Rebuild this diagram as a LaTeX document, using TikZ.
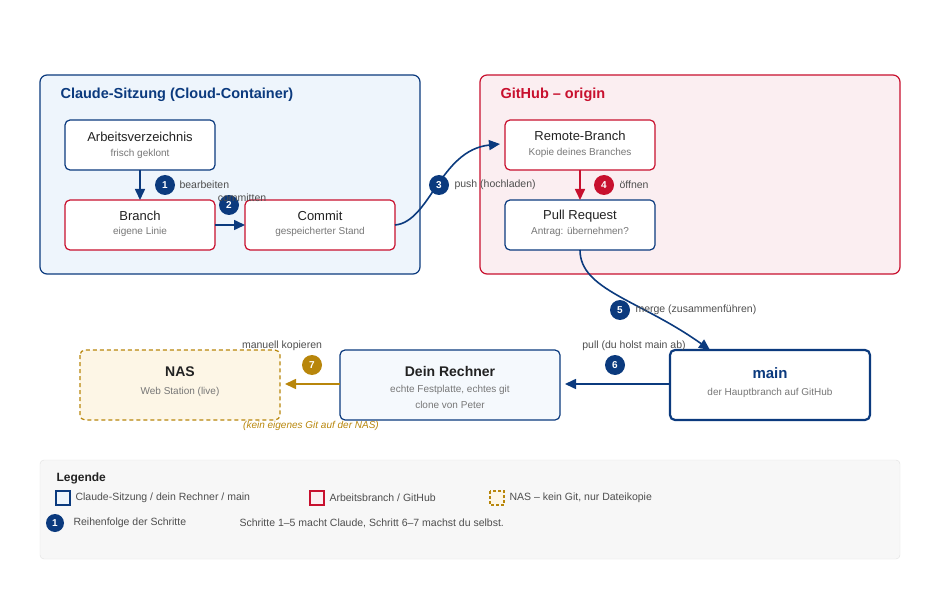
\documentclass[tikz,border=0pt]{standalone}
\usepackage{fontspec}
\setmainfont{Liberation Sans}
\usetikzlibrary{arrows.meta}
\definecolor{cblue}{HTML}{0B3A7E}
\definecolor{cred}{HTML}{C8102E}
\definecolor{cgold}{HTML}{B8860B}
\definecolor{bluefill}{HTML}{EEF5FC}
\definecolor{redfill}{HTML}{FBEEF1}
\definecolor{nasfill}{HTML}{FDF6E6}
\definecolor{txt}{HTML}{222222}
\definecolor{sub}{HTML}{777777}
\begin{document}
\begin{tikzpicture}[x=1pt,y=-1pt,
 box/.style={rounded corners=5pt,line width=1.2pt,fill=white},
 grp/.style={rounded corners=7pt,line width=1.2pt},
 ttl/.style={font=\fontsize{13}{15}\selectfont,text=txt},
 st/.style={font=\fontsize{10}{12}\selectfont,text=sub},
 lab/.style={font=\fontsize{10.5}{12}\selectfont,text=txt!80,anchor=west},
 clab/.style={font=\fontsize{10.5}{12}\selectfont,text=txt!80},
 badge/.style={circle,fill=cblue,text=white,inner sep=0pt,minimum size=20pt,font=\fontsize{10}{12}\selectfont\bfseries},
 arr/.style={line width=1.6pt,-{Triangle[length=11pt,width=10pt]}}]
\useasboundingbox (0,0) rectangle (940,604);
% groups
\draw[grp,draw=cblue,fill=bluefill] (40,75) rectangle (420,274);
\node[anchor=west,text=cblue,font=\fontsize{14.5}{17}\selectfont\bfseries] (tc) at (57,95) {Claude-Sitzung (Cloud-Container)};
\draw[grp,draw=cred,fill=redfill] (480,75) rectangle (900,274);
\node[anchor=west,text=cred,font=\fontsize{14.5}{17}\selectfont\bfseries] (tg) at (497,95) {GitHub – origin};
% nodes
\draw[box,draw=cblue] (65,120) rectangle (215,170);
\node[ttl] (a) at (140,137) {Arbeitsverzeichnis};
\node[st] at (140,154) {frisch geklont};
\coordinate (aB) at (140,170);
\draw[box,draw=cred] (65,200) rectangle (215,250);
\node[ttl] at (140,216) {Branch};
\node[st] at (140,232) {eigene Linie};
\coordinate (bT) at (140,200); \coordinate (bR) at (215,225);
\draw[box,draw=cred] (245,200) rectangle (395,250);
\node[ttl] at (320,216) {Commit};
\node[st] at (320,232) {gespeicherter Stand};
\coordinate (cL) at (245,225); \coordinate (cR) at (395,225);
\draw[box,draw=cred] (505,120) rectangle (655,170);
\node[ttl] at (580,136) {Remote-Branch};
\node[st] at (580,153) {Kopie deines Branches};
\coordinate (rL) at (500,144); \coordinate (rB) at (580,170);
\draw[box,draw=cblue] (505,200) rectangle (655,250);
\node[ttl] at (580,216) {Pull Request};
\node[st] at (580,232) {Antrag: übernehmen?};
\coordinate (pT) at (580,200); \coordinate (pB) at (580,250);
\draw[box,draw=cblue,line width=2.2pt] (670,350) rectangle (870,420);
\node[text=cblue,font=\fontsize{15}{17}\selectfont\bfseries] at (770,373) {main};
\node[st] at (770,393) {der Hauptbranch auf GitHub};
\coordinate (mT) at (710,350); \coordinate (mL) at (670,384);
\draw[box,draw=cblue,fill=bluefill!60] (340,350) rectangle (560,420);
\node[text=txt,font=\fontsize{14}{16}\selectfont\bfseries] at (450,371) {Dein Rechner};
\node[st] at (450,390) {echte Festplatte, echtes git};
\node[st] at (450,405) {clone von Peter};
\coordinate (dR) at (565,384); \coordinate (dL) at (340,384);
\draw[box,draw=cgold,fill=nasfill,dashed,dash pattern=on 4pt off 3pt] (80,350) rectangle (280,420);
\node[text=txt,font=\fontsize{14}{16}\selectfont\bfseries] at (180,372) {NAS};
\node[st] at (180,392) {Web Station (live)};
\coordinate (nR) at (285,384);
\node[text=cgold,font=\fontsize{10}{12}\selectfont\itshape] at (311,426) {(kein eigenes Git auf der NAS)};
% arrows
\draw[arr,draw=cblue] (aB) -- (bT);
\draw[arr,draw=cblue] (bR) -- (cL);
\draw[arr,draw=cblue] (cR) .. controls (430,222) and (440,150) .. (rL);
\draw[arr,draw=cred] (rB) -- (pT);
\draw[arr,draw=cblue] (pB) .. controls (580,290) and (640,300) .. (mT);
\draw[arr,draw=cblue] (mL) -- (dR);
\draw[arr,draw=cgold] (dL) -- (nR);
% badges & labels
\node[badge] (b1) at (165,185) {1}; \node[lab] at (176,185) {bearbeiten};
\node[badge] (b2) at (229,205) {2}; \node[clab] at (242,198) {committen};
\node[badge] (b3) at (439,185) {3}; \node[lab] at (451,185) {push (hochladen)};
\node[badge,fill=cred] (b4) at (604,185) {4}; \node[lab] at (616,185) {öffnen};
\node[badge] (b5) at (620,310) {5}; \node[lab] at (632,310) {merge (zusammenführen)};
\node[badge] (b6) at (615,365) {6}; \node[clab] at (634,346) {pull (du holst main ab)};
\node[badge,fill=cgold] (b7) at (312,365) {7}; \node[clab] at (282,346) {manuell kopieren};
% legend
\draw[draw=black!12,fill=black!3,rounded corners=4pt] (40,460) rectangle (900,559);
\node[anchor=west,font=\fontsize{12}{14}\selectfont\bfseries,text=txt] at (53,478) {Legende};
\draw[draw=cblue,line width=1.2pt,fill=bluefill] (56,491) rectangle (70,505);
\node[lab] at (72,498) {Claude-Sitzung / dein Rechner / main};
\draw[draw=cred,line width=1.2pt,fill=redfill] (310,491) rectangle (324,505);
\node[lab] at (326,498) {Arbeitsbranch / GitHub};
\draw[draw=cgold,line width=1.2pt,fill=nasfill,dashed,dash pattern=on 3pt off 2pt] (490,491) rectangle (504,505);
\node[lab] at (506,498) {NAS – kein Git, nur Dateikopie};
\node[badge,minimum size=18pt] at (55,523) {1};
\node[lab] at (70,523) {Reihenfolge der Schritte};
\node[lab] at (236,523) {Schritte 1–5 macht Claude, Schritt 6–7 machst du selbst.};
\end{tikzpicture}
\end{document}
